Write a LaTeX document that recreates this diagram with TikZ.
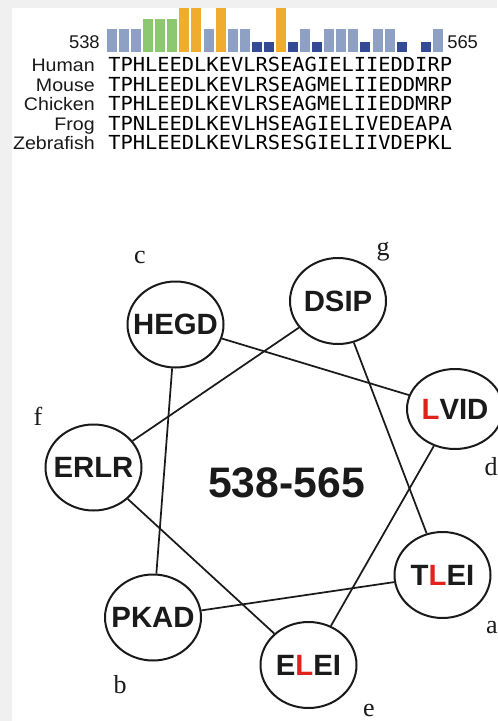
\documentclass[tikz,border=0pt]{standalone}
\usepackage{fontspec}
\setmainfont{Liberation Serif}
\newfontfamily\helv{Liberation Sans}
\newfontfamily\labfont[FakeStretch=1.08]{Liberation Sans}
\newfontfamily\seqfont[FakeStretch=1.055]{DejaVu Sans Mono}
\usetikzlibrary{shapes.geometric}

\definecolor{pagegray}{RGB}{240,240,240}
\definecolor{barblue}{RGB}{143,160,197}
\definecolor{bargreen}{RGB}{140,200,112}
\definecolor{barorange}{RGB}{240,172,46}
\definecolor{bardark}{RGB}{53,74,148}
\definecolor{hlred}{RGB}{226,32,28}
\definecolor{ink}{RGB}{26,26,26}

\tikzset{
  species/.style={anchor=base east, inner sep=0pt, text=ink,
    font=\labfont\fontsize{13.6pt}{16pt}\selectfont},
  seqrow/.style={anchor=base west, inner sep=0pt, text=black,
    font=\seqfont\fontsize{14.5pt}{17pt}\selectfont},
  endnum/.style={inner sep=0pt, text=ink,
    font=\helv\fontsize{13.8pt}{16pt}\selectfont},
  wheel/.style={ellipse, draw=ink, line width=1.5pt, fill=white, inner sep=0pt,
    minimum width=72pt, minimum height=64.5pt, text=ink,
    font=\helv\bfseries\fontsize{22pt}{26pt}\selectfont},
  link/.style={draw=ink, line width=1.3pt},
  heptad/.style={anchor=base, inner sep=0pt, text=ink,
    font=\fontsize{19.5pt}{23pt}\selectfont},
}

\begin{document}
\begin{tikzpicture}[x=0.75pt, y=-0.75pt]
  \useasboundingbox (0,0) rectangle (497,721);
  \fill[pagegray] (0,0) rectangle (497,721);
  \fill[white] (12,8) rectangle (497,721);

  % conservation bars, residues 538-565
  \foreach \i/\c/\h in {0/barblue/23, 1/barblue/23, 2/barblue/23,
      3/bargreen/33, 4/bargreen/33, 5/bargreen/33,
      6/barorange/44, 7/barorange/44, 8/barblue/23, 9/barorange/44,
      10/barblue/23, 11/barblue/23, 12/bardark/10, 13/bardark/10,
      14/barorange/44, 15/bardark/10, 16/barblue/23, 17/bardark/10,
      18/barblue/23, 19/barblue/23, 20/barblue/23, 21/bardark/10,
      22/barblue/23, 23/barblue/23, 24/bardark/10, 26/bardark/10,
      27/barblue/23}
    \fill[\c] ({112+12.07*\i-5},52) rectangle ++(10,-\h);

  \node[endnum, anchor=base east] (n538) at (100,48) {538};
  \node[endnum, anchor=base west] (n565) at (447,48) {565};

  % alignment
  \node[species] (lhuman) at (95,71.5) {Human};
  \node[species] (lmouse) at (95,91) {Mouse};
  \node[species] (lchick) at (95,110.5) {Chicken};
  \node[species] (lfrog)  at (95,130) {Frog};
  \node[species] (lzebra) at (95,149.5) {Zebrafish};

  \node[seqrow] (shuman) at (108,71.5) {TPHLEEDLKEVLRSEAGIELIIEDDIRP};
  \node[seqrow] (smouse) at (108,91) {TPHLEEDLKEVLRSEAGMELIIEDDMRP};
  \node[seqrow] (schick) at (108,110.5) {TPHLEEDLKEVLRSEAGMELIIEDDMRP};
  \node[seqrow] (sfrog)  at (108,130) {TPNLEEDLKEVLHSEAGIELIVEDEAPA};
  \node[seqrow] (szebra) at (108,149.5) {TPHLEEDLKEVLRSESGIELIIVDEPKL};

  % helical wheel
  \node[wheel] (hegd) at (175.5,324.5) {\makebox[0pt]{HEGD}};
  \node[wheel] (dsip) at (338,301) {\makebox[0pt]{DSIP}};
  \node[wheel, minimum height=60pt] (lvid) at (455,409)
    {\makebox[0pt]{\textcolor{hlred}{L}VID}};
  \node[wheel] (erlr) at (93.5,467.5) {\makebox[0pt]{ERLR}};
  \node[wheel] (pkad) at (153,617.5) {\makebox[0pt]{PKAD}};
  \node[wheel] (elei) at (308.5,665) {\makebox[0pt]{E\textcolor{hlred}{L}EI}};
  \node[wheel] (tlei) at (442.5,575) {\makebox[0pt]{T\textcolor{hlred}{L}EI}};

  \draw[link] (tlei) -- (pkad);
  \draw[link] (pkad) -- (hegd);
  \draw[link] (hegd) -- (lvid);
  \draw[link] (lvid) -- (elei);
  \draw[link] (elei) -- (erlr);
  \draw[link] (erlr) -- (dsip);
  \draw[link] (dsip) -- (tlei);

  \node[inner sep=0pt, text=ink, font=\helv\bfseries\fontsize{32pt}{38pt}\selectfont]
    (range) at (286.5,483) {538-565};

  \node[heptad] (ha) at (492,633) {a};
  \node[heptad] (hb) at (120,693) {b};
  \node[heptad] (hc) at (140,263) {c};
  \node[heptad] (hd) at (491,475) {d};
  \node[heptad] (he) at (369,716) {e};
  \node[heptad] (hf) at (38,425) {f};
  \node[heptad] (hg) at (383,255) {g};
\end{tikzpicture}
\end{document}
